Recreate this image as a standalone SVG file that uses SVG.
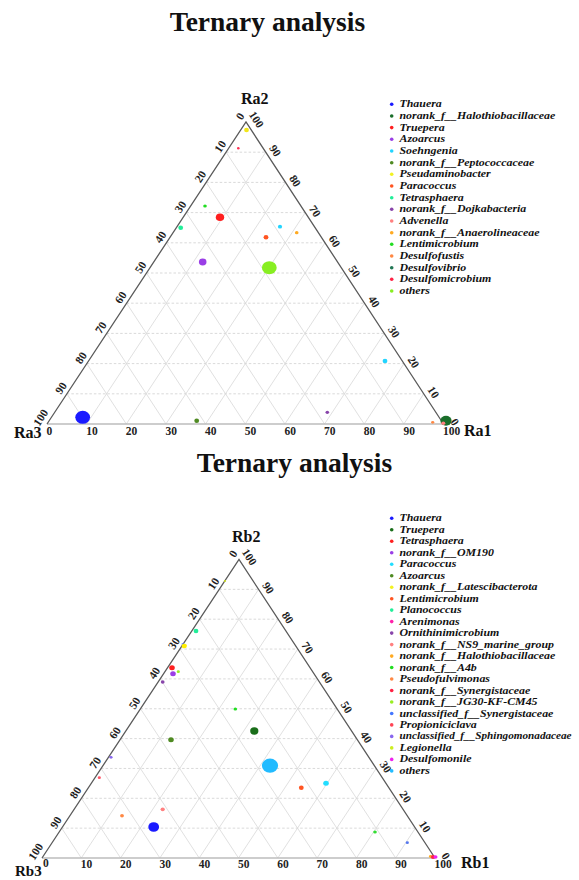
<svg xmlns="http://www.w3.org/2000/svg" width="579" height="880" viewBox="0 0 579 880">
<style>
.title{font-family:"Liberation Serif","Times New Roman",serif;font-weight:bold;font-size:27.5px;fill:#111}
.corner{font-family:"Liberation Serif","Times New Roman",serif;font-weight:bold;font-size:16px;fill:#111}
.tick{font-family:"Liberation Serif","Times New Roman",serif;font-weight:bold;font-size:11.5px;fill:#222}
.ax{font-family:"Liberation Serif","Times New Roman",serif;font-weight:bold;font-size:11.5px;fill:#222;text-anchor:middle}
.leg{font-family:"Liberation Serif","Times New Roman",serif;font-weight:bold;font-style:italic;font-size:11.9px;fill:#111}
.grid{stroke:#d8d8d8;stroke-width:0.8;fill:none}
.hgrid{stroke:#cfcfcf;stroke-width:0.8;stroke-dasharray:2.5,2;fill:none}
.edge{stroke:#5a5a5a;stroke-width:1.3;fill:none}
.base{stroke:#bdbdbd;stroke-width:1.3;fill:none}
</style>

<!-- ===== TOP CHART ===== -->
<g id="chartA">
<text class="title" x="267.5" y="31" text-anchor="middle">Ternary analysis</text>
<g id="gridA">
<path class="hgrid" d="M66.9 393.8H423.75M86.8 363.6H404M106.7 333.4H384.25M126.6 303.2H364.5M146.5 273H344.75M166.4 242.8H325M186.3 212.6H305.25M206.2 182.4H285.5M226.1 152.2H265.75"/>
<path class="grid" d="M86.65 424L265.75 152.2M126.3 424L285.5 182.4M165.95 424L305.25 212.6M205.6 424L325 242.8M245.25 424L344.75 273M284.9 424L364.5 303.2M324.55 424L384.25 333.4M364.2 424L404 363.6M403.85 424L423.75 393.8"/>
<path class="grid" d="M403.85 424L226.1 152.2M364.2 424L206.2 182.4M324.55 424L186.3 212.6M284.9 424L166.4 242.8M245.25 424L146.5 273M205.6 424L126.6 303.2M165.95 424L106.7 333.4M126.3 424L86.8 363.6M86.65 424L66.9 393.8"/>
</g>
<g id="edgesA">
<path class="base" d="M47 424H443.5"/>
<path class="edge" d="M47 424L246 122L443.5 424"/>
</g>
<g id="baseLabelsA" class="tick">
<text x="46.5" y="434.5">0</text><text x="86.2" y="434.5">10</text><text x="125.8" y="434.5">20</text><text x="165.5" y="434.5">30</text><text x="205.1" y="434.5">40</text><text x="244.8" y="434.5">50</text><text x="284.4" y="434.5">60</text><text x="324.1" y="434.5">70</text><text x="363.7" y="434.5">80</text><text x="403.4" y="434.5">90</text><text x="443" y="434.5">100</text>
</g>
<g id="leftLabelsA">
<text class="ax" dy="0.35em" transform="translate(240,116.2) rotate(-56.7)">0</text>
<text class="ax" dy="0.35em" transform="translate(220.1,146.4) rotate(-56.7)">10</text>
<text class="ax" dy="0.35em" transform="translate(200.2,176.6) rotate(-56.7)">20</text>
<text class="ax" dy="0.35em" transform="translate(180.3,206.8) rotate(-56.7)">30</text>
<text class="ax" dy="0.35em" transform="translate(160.4,237) rotate(-56.7)">40</text>
<text class="ax" dy="0.35em" transform="translate(140.5,267.2) rotate(-56.7)">50</text>
<text class="ax" dy="0.35em" transform="translate(120.6,297.4) rotate(-56.7)">60</text>
<text class="ax" dy="0.35em" transform="translate(100.7,327.6) rotate(-56.7)">70</text>
<text class="ax" dy="0.35em" transform="translate(80.8,357.8) rotate(-56.7)">80</text>
<text class="ax" dy="0.35em" transform="translate(60.9,388) rotate(-56.7)">90</text>
<text class="ax" dy="0.35em" transform="translate(40.5,417.5) rotate(-56.7)">100</text>
</g>
<g id="rightLabelsA">
<text class="ax" dy="0.35em" transform="translate(256.5,119.5) rotate(56.7)">100</text>
<text class="ax" dy="0.35em" transform="translate(275.4,150.6) rotate(56.7)">90</text>
<text class="ax" dy="0.35em" transform="translate(295.2,180.8) rotate(56.7)">80</text>
<text class="ax" dy="0.35em" transform="translate(315,211) rotate(56.7)">70</text>
<text class="ax" dy="0.35em" transform="translate(334.7,241.2) rotate(56.7)">60</text>
<text class="ax" dy="0.35em" transform="translate(354.5,271.4) rotate(56.7)">50</text>
<text class="ax" dy="0.35em" transform="translate(374.2,301.6) rotate(56.7)">40</text>
<text class="ax" dy="0.35em" transform="translate(394,331.8) rotate(56.7)">30</text>
<text class="ax" dy="0.35em" transform="translate(413.7,362) rotate(56.7)">20</text>
<text class="ax" dy="0.35em" transform="translate(433.5,392.2) rotate(56.7)">10</text>
<text class="ax" dy="0.35em" transform="translate(455,422) rotate(56.7)">0</text>
</g>
<g id="cornerLabelsA" class="corner">
<text x="241" y="104">Ra2</text>
<text x="14" y="438">Ra3</text>
<text x="464" y="436">Ra1</text>
</g>
<g id="pointsA">
<ellipse cx="246.5" cy="130" rx="2.4" ry="2.2" fill="#f2e61a"/>
<ellipse cx="238.3" cy="148.3" rx="1.3" ry="1.2" fill="#ff3355"/>
<ellipse cx="205" cy="206" rx="1.8" ry="1.6" fill="#22dd22"/>
<ellipse cx="220" cy="217.3" rx="4.2" ry="3.8" fill="#ff1f1f"/>
<ellipse cx="180.7" cy="227.7" rx="2.4" ry="2.2" fill="#22ee99"/>
<ellipse cx="266" cy="237.3" rx="2.4" ry="2.2" fill="#ff5522"/>
<ellipse cx="202.7" cy="262" rx="3.8" ry="3.4" fill="#9a3ee6"/>
<ellipse cx="269.3" cy="267.7" rx="7.4" ry="6.5" fill="#88ee22"/>
<ellipse cx="82.7" cy="417.3" rx="7.4" ry="6.5" fill="#1a1aff"/>
<ellipse cx="196.7" cy="420.7" rx="2.4" ry="2.2" fill="#4f8a22"/>
<ellipse cx="280" cy="226.7" rx="2.1" ry="1.9" fill="#22d4ff"/>
<ellipse cx="296.7" cy="232.7" rx="1.8" ry="1.6" fill="#ffaa22"/>
<ellipse cx="385" cy="361" rx="2.4" ry="2.2" fill="#22d4ff"/>
<ellipse cx="327.3" cy="412.3" rx="1.8" ry="1.6" fill="#8844aa"/>
<ellipse cx="432.7" cy="422.3" rx="1.6" ry="1.4" fill="#ff8844"/>
<ellipse cx="446" cy="420.7" rx="5.6" ry="5" fill="#1a6e2a"/>
<ellipse cx="443.3" cy="423.3" rx="2" ry="1.8" fill="#ff8080"/>
</g>
<g id="legendA">
<circle cx="391.7" cy="104.3" r="1.8" fill="#1a1aff"/>
<circle cx="391.7" cy="116" r="1.8" fill="#1a6e2a"/>
<circle cx="391.7" cy="127.6" r="1.8" fill="#ff2020"/>
<circle cx="391.7" cy="139.3" r="1.8" fill="#9a3ee6"/>
<circle cx="391.7" cy="151" r="1.8" fill="#22d4ff"/>
<circle cx="391.7" cy="162.7" r="1.8" fill="#4f8a22"/>
<circle cx="391.7" cy="174.3" r="1.8" fill="#f2f222"/>
<circle cx="391.7" cy="186" r="1.8" fill="#ff5522"/>
<circle cx="391.7" cy="197.7" r="1.8" fill="#22ee99"/>
<circle cx="391.7" cy="209.3" r="1.8" fill="#8844aa"/>
<circle cx="391.7" cy="221" r="1.8" fill="#ff8080"/>
<circle cx="391.7" cy="232.7" r="1.8" fill="#ffaa22"/>
<circle cx="391.7" cy="244.3" r="1.8" fill="#22dd22"/>
<circle cx="391.7" cy="256" r="1.8" fill="#ff8844"/>
<circle cx="391.7" cy="267.7" r="1.8" fill="#227755"/>
<circle cx="391.7" cy="279.3" r="1.8" fill="#ff2244"/>
<circle cx="391.7" cy="291" r="1.8" fill="#88ee22"/>
<g class="leg">
<text transform="translate(399.5,107.3) scale(1,0.85)">Thauera</text>
<text transform="translate(399.5,119) scale(1,0.85)">norank_f__Halothiobacillaceae</text>
<text transform="translate(399.5,130.6) scale(1,0.85)">Truepera</text>
<text transform="translate(399.5,142.3) scale(1,0.85)">Azoarcus</text>
<text transform="translate(399.5,154) scale(1,0.85)">Soehngenia</text>
<text transform="translate(399.5,165.7) scale(1,0.85)">norank_f__Peptococcaceae</text>
<text transform="translate(399.5,177.3) scale(1,0.85)">Pseudaminobacter</text>
<text transform="translate(399.5,189) scale(1,0.85)">Paracoccus</text>
<text transform="translate(399.5,200.7) scale(1,0.85)">Tetrasphaera</text>
<text transform="translate(399.5,212.3) scale(1,0.85)">norank_f__Dojkabacteria</text>
<text transform="translate(399.5,224) scale(1,0.85)">Advenella</text>
<text transform="translate(399.5,235.7) scale(1,0.85)">norank_f__Anaerolineaceae</text>
<text transform="translate(399.5,247.3) scale(1,0.85)">Lentimicrobium</text>
<text transform="translate(399.5,259) scale(1,0.85)">Desulfofustis</text>
<text transform="translate(399.5,270.7) scale(1,0.85)">Desulfovibrio</text>
<text transform="translate(399.5,282.3) scale(1,0.85)">Desulfomicrobium</text>
<text transform="translate(399.5,294) scale(1,0.85)">others</text>
</g>
</g>
</g>

<!-- ===== BOTTOM CHART ===== -->
<g id="chartB">
<text class="title" x="294.5" y="472" text-anchor="middle">Ternary analysis</text>
<g id="gridB">
<path class="hgrid" d="M61.7 828.15H415.4M81.4 798.3H395.8M101.1 768.45H376.2M120.8 738.6H356.6M140.5 708.75H337M160.2 678.9H317.4M179.9 649.05H297.8M199.6 619.2H278.2M219.3 589.35H258.6"/>
<path class="grid" d="M81.3 858L258.6 589.35M120.6 858L278.2 619.2M159.9 858L297.8 649.05M199.2 858L317.4 678.9M238.5 858L337 708.75M277.8 858L356.6 738.6M317.1 858L376.2 768.45M356.4 858L395.8 798.3M395.7 858L415.4 828.15"/>
<path class="grid" d="M395.7 858L219.3 589.35M356.4 858L199.6 619.2M317.1 858L179.9 649.05M277.8 858L160.2 678.9M238.5 858L140.5 708.75M199.2 858L120.8 738.6M159.9 858L101.1 768.45M120.6 858L81.4 798.3M81.3 858L61.7 828.15"/>
</g>
<g id="edgesB">
<path class="base" d="M42 858H435"/>
<path class="edge" d="M42 858L239 559.5L435 858"/>
</g>
<g id="baseLabelsB" class="tick">
<text x="43" y="866.5">0</text><text x="80.8" y="867.5">10</text><text x="120.1" y="867.5">20</text><text x="159.4" y="867.5">30</text><text x="198.7" y="867.5">40</text><text x="238" y="867.5">50</text><text x="277.3" y="867.5">60</text><text x="316.6" y="867.5">70</text><text x="355.9" y="867.5">80</text><text x="395.2" y="867.5">90</text><text x="434.5" y="867.5">100</text>
</g>
<g id="leftLabelsB">
<text class="ax" dy="0.35em" transform="translate(233,553.7) rotate(-56.7)">0</text>
<text class="ax" dy="0.35em" transform="translate(213.3,583.6) rotate(-56.7)">10</text>
<text class="ax" dy="0.35em" transform="translate(193.6,613.4) rotate(-56.7)">20</text>
<text class="ax" dy="0.35em" transform="translate(173.9,643.3) rotate(-56.7)">30</text>
<text class="ax" dy="0.35em" transform="translate(154.2,673.1) rotate(-56.7)">40</text>
<text class="ax" dy="0.35em" transform="translate(134.5,703) rotate(-56.7)">50</text>
<text class="ax" dy="0.35em" transform="translate(114.8,732.8) rotate(-56.7)">60</text>
<text class="ax" dy="0.35em" transform="translate(95.1,762.7) rotate(-56.7)">70</text>
<text class="ax" dy="0.35em" transform="translate(75.4,792.5) rotate(-56.7)">80</text>
<text class="ax" dy="0.35em" transform="translate(55.7,822.4) rotate(-56.7)">90</text>
<text class="ax" dy="0.35em" transform="translate(35.5,851.5) rotate(-56.7)">100</text>
</g>
<g id="rightLabelsB">
<text class="ax" dy="0.35em" transform="translate(249.5,557) rotate(56.7)">100</text>
<text class="ax" dy="0.35em" transform="translate(268.3,587.8) rotate(56.7)">90</text>
<text class="ax" dy="0.35em" transform="translate(287.9,617.6) rotate(56.7)">80</text>
<text class="ax" dy="0.35em" transform="translate(307.5,647.5) rotate(56.7)">70</text>
<text class="ax" dy="0.35em" transform="translate(327.1,677.3) rotate(56.7)">60</text>
<text class="ax" dy="0.35em" transform="translate(346.7,707.2) rotate(56.7)">50</text>
<text class="ax" dy="0.35em" transform="translate(366.3,737) rotate(56.7)">40</text>
<text class="ax" dy="0.35em" transform="translate(385.9,766.9) rotate(56.7)">30</text>
<text class="ax" dy="0.35em" transform="translate(405.5,796.7) rotate(56.7)">20</text>
<text class="ax" dy="0.35em" transform="translate(425.1,826.6) rotate(56.7)">10</text>
<text class="ax" dy="0.35em" transform="translate(446,856) rotate(56.7)">0</text>
</g>
<g id="cornerLabelsB" class="corner">
<text x="232" y="542">Rb2</text>
<text x="15" y="876.3" font-size="15">Rb3</text>
<text x="461" y="868">Rb1</text>
</g>
<g id="pointsB">
<ellipse cx="225" cy="581" rx="1.1" ry="1" fill="#ccdd22"/>
<ellipse cx="196" cy="631" rx="2.4" ry="2.2" fill="#22ee99"/>
<ellipse cx="182.7" cy="644" rx="1.2" ry="1.1" fill="#6688ff"/>
<ellipse cx="184.3" cy="646" rx="2.6" ry="2.3" fill="#ffee00"/>
<ellipse cx="172" cy="667.7" rx="2.8" ry="2.5" fill="#ff2020"/>
<ellipse cx="173" cy="673.7" rx="2.8" ry="2.5" fill="#9a3ee6"/>
<ellipse cx="178.3" cy="671.7" rx="1.6" ry="1.4" fill="#99ee22"/>
<ellipse cx="162.7" cy="682" rx="1.9" ry="1.7" fill="#8844aa"/>
<ellipse cx="235.3" cy="709" rx="1.8" ry="1.6" fill="#22dd22"/>
<ellipse cx="171" cy="739.7" rx="2.8" ry="2.5" fill="#4f8a22"/>
<ellipse cx="111" cy="757.3" rx="1.6" ry="1.4" fill="#8866ee"/>
<ellipse cx="99.3" cy="777.7" rx="1.6" ry="1.4" fill="#ff5566"/>
<ellipse cx="162.7" cy="809.3" rx="2.1" ry="1.9" fill="#ff8080"/>
<ellipse cx="122" cy="815.7" rx="1.9" ry="1.7" fill="#ff8844"/>
<ellipse cx="153.7" cy="827" rx="5.4" ry="4.8" fill="#1a1aff"/>
<ellipse cx="254.3" cy="731" rx="4.1" ry="3.7" fill="#1a6e1a"/>
<ellipse cx="270" cy="765.7" rx="8.1" ry="7.1" fill="#22bbff"/>
<ellipse cx="326" cy="783.3" rx="2.8" ry="2.5" fill="#22ddff"/>
<ellipse cx="301.3" cy="787.7" rx="2.4" ry="2.2" fill="#ff5522"/>
<ellipse cx="375" cy="832" rx="1.8" ry="1.6" fill="#33dd33"/>
<ellipse cx="407.3" cy="842.7" rx="1.6" ry="1.4" fill="#5577ee"/>
<ellipse cx="430.5" cy="856.5" rx="1.6" ry="1.4" fill="#ffaa22"/>
<ellipse cx="433" cy="857" rx="2.1" ry="1.9" fill="#ff2244"/>
<ellipse cx="435.5" cy="857" rx="2" ry="1.8" fill="#ee22ee"/>
</g>
<g id="legendB">
<circle cx="391.7" cy="518.3" r="1.8" fill="#1a1aff"/>
<circle cx="391.7" cy="529.8" r="1.8" fill="#1a6e1a"/>
<circle cx="391.7" cy="541.3" r="1.8" fill="#ff2020"/>
<circle cx="391.7" cy="552.7" r="1.8" fill="#9a3ee6"/>
<circle cx="391.7" cy="564.2" r="1.8" fill="#22ddff"/>
<circle cx="391.7" cy="575.7" r="1.8" fill="#4f8a22"/>
<circle cx="391.7" cy="587.2" r="1.8" fill="#f2f222"/>
<circle cx="391.7" cy="598.7" r="1.8" fill="#ff5522"/>
<circle cx="391.7" cy="610.1" r="1.8" fill="#22ee99"/>
<circle cx="391.7" cy="621.6" r="1.8" fill="#ff22aa"/>
<circle cx="391.7" cy="633.1" r="1.8" fill="#8844aa"/>
<circle cx="391.7" cy="644.6" r="1.8" fill="#ff8080"/>
<circle cx="391.7" cy="656.1" r="1.8" fill="#ffaa22"/>
<circle cx="391.7" cy="667.5" r="1.8" fill="#22dd22"/>
<circle cx="391.7" cy="679" r="1.8" fill="#ff8844"/>
<circle cx="391.7" cy="690.5" r="1.8" fill="#ff2244"/>
<circle cx="391.7" cy="702" r="1.8" fill="#99ee22"/>
<circle cx="391.7" cy="713.5" r="1.8" fill="#4477ff"/>
<circle cx="391.7" cy="724.9" r="1.8" fill="#ff4455"/>
<circle cx="391.7" cy="736.4" r="1.8" fill="#8866ee"/>
<circle cx="391.7" cy="747.9" r="1.8" fill="#ccee22"/>
<circle cx="391.7" cy="759.4" r="1.8" fill="#ee22ee"/>
<circle cx="391.7" cy="770.9" r="1.8" fill="#22bbff"/>
<g class="leg">
<text transform="translate(399.5,521.3) scale(1,0.85)">Thauera</text>
<text transform="translate(399.5,532.8) scale(1,0.85)">Truepera</text>
<text transform="translate(399.5,544.3) scale(1,0.85)">Tetrasphaera</text>
<text transform="translate(399.5,555.7) scale(1,0.85)">norank_f__OM190</text>
<text transform="translate(399.5,567.2) scale(1,0.85)">Paracoccus</text>
<text transform="translate(399.5,578.7) scale(1,0.85)">Azoarcus</text>
<text transform="translate(399.5,590.2) scale(1,0.85)">norank_f__Latescibacterota</text>
<text transform="translate(399.5,601.7) scale(1,0.85)">Lentimicrobium</text>
<text transform="translate(399.5,613.1) scale(1,0.85)">Planococcus</text>
<text transform="translate(399.5,624.6) scale(1,0.85)">Arenimonas</text>
<text transform="translate(399.5,636.1) scale(1,0.85)">Ornithinimicrobium</text>
<text transform="translate(399.5,647.6) scale(1,0.85)">norank_f__NS9_marine_group</text>
<text transform="translate(399.5,659.1) scale(1,0.85)">norank_f__Halothiobacillaceae</text>
<text transform="translate(399.5,670.5) scale(1,0.85)">norank_f__A4b</text>
<text transform="translate(399.5,682) scale(1,0.85)">Pseudofulvimonas</text>
<text transform="translate(399.5,693.5) scale(1,0.85)">norank_f__Synergistaceae</text>
<text transform="translate(399.5,705) scale(1,0.85)">norank_f__JG30-KF-CM45</text>
<text transform="translate(399.5,716.5) scale(1,0.85)">unclassified_f__Synergistaceae</text>
<text transform="translate(399.5,727.9) scale(1,0.85)">Propioniciclava</text>
<text transform="translate(399.5,739.4) scale(1,0.85)" font-size="11.2">unclassified_f__Sphingomonadaceae</text>
<text transform="translate(399.5,750.9) scale(1,0.85)">Legionella</text>
<text transform="translate(399.5,762.4) scale(1,0.85)">Desulfomonile</text>
<text transform="translate(399.5,773.9) scale(1,0.85)">others</text>
</g>
</g>
</g>
</svg>
